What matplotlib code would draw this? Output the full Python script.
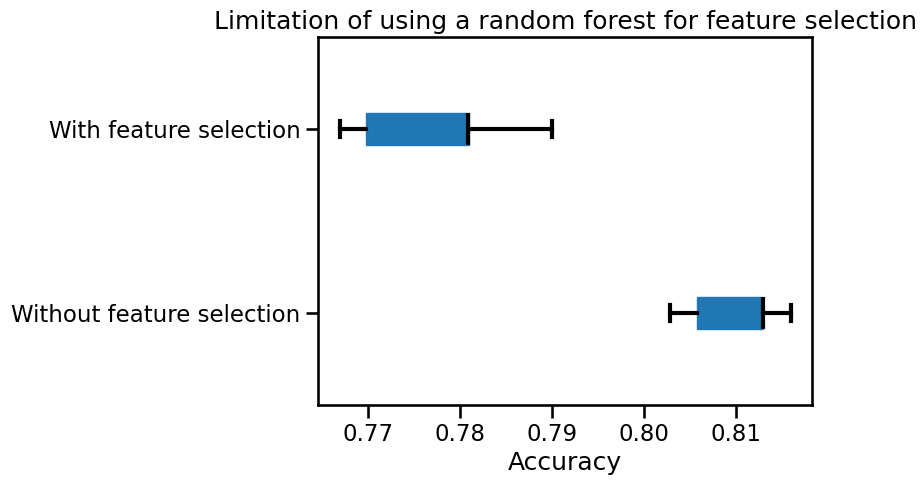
import matplotlib
matplotlib.use("Agg")
import matplotlib.pyplot as plt
import seaborn as sns

sns.set_context("talk")

labels = ["Without feature selection", "With feature selection"]
whislo = [0.8028, 0.7670]
q1 = [0.8058, 0.7698]
med = [0.8130, 0.7809]
q3 = [0.8130, 0.7810]
whishi = [0.8160, 0.7900]

stats = []
for i in range(len(labels)):
    stats.append({"label": labels[i], "whislo": whislo[i], "q1": q1[i],
                  "med": med[i], "q3": q3[i], "whishi": whishi[i], "fliers": []})

fig = plt.figure(figsize=(9.24, 4.87), dpi=100)
ax = fig.add_axes([0.344, 0.168, 0.535, 0.756])
ax.bxp(stats, vert=False, widths=0.175, patch_artist=True, showfliers=False,
       boxprops=dict(facecolor="#1f77b4", edgecolor="#1f77b4", linewidth=1),
       whiskerprops=dict(color="black", linewidth=3),
       capprops=dict(color="black", linewidth=3),
       medianprops=dict(color="black", linewidth=3))
ax.set_xlim(0.7646, 0.8183)
ax.set_ylim(0.5, 2.5)
ax.set_xticks([0.77, 0.78, 0.79, 0.80, 0.81])
ax.set_xticklabels(["0.77", "0.78", "0.79", "0.80", "0.81"])
ax.set_xlabel("Accuracy")
ax.set_title("Limitation of using a random forest for feature selection")
fig.savefig("out.png", dpi=100)
